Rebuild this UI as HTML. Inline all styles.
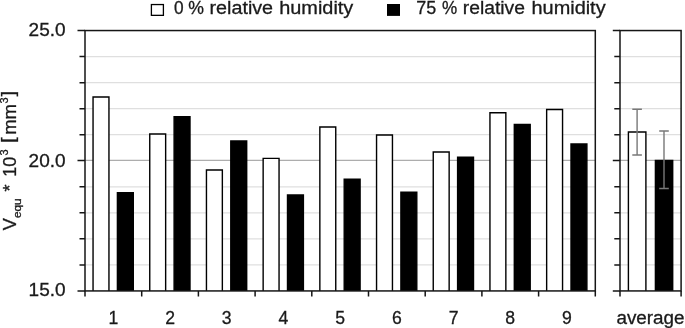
<!DOCTYPE html>
<html lang="en"><head><meta charset="utf-8"><title>Chart</title>
<style>html,body{margin:0;padding:0;background:#fff}body{width:685px;height:328px;overflow:hidden}</style>
</head><body>
<svg width="685" height="328" viewBox="0 0 685 328" style="display:block;filter:blur(0.4px)">
<rect x="0" y="0" width="685" height="328" fill="#fff"/>
<g fill="none" stroke-width="1.2">
<line x1="85.0" y1="264.89" x2="595.3" y2="264.89" stroke="#dfdfdf"/>
<line x1="620.0" y1="264.89" x2="681.1" y2="264.89" stroke="#dfdfdf"/>
<line x1="85.0" y1="238.85" x2="595.3" y2="238.85" stroke="#dfdfdf"/>
<line x1="620.0" y1="238.85" x2="681.1" y2="238.85" stroke="#dfdfdf"/>
<line x1="85.0" y1="212.82" x2="595.3" y2="212.82" stroke="#dfdfdf"/>
<line x1="620.0" y1="212.82" x2="681.1" y2="212.82" stroke="#dfdfdf"/>
<line x1="85.0" y1="186.78" x2="595.3" y2="186.78" stroke="#dfdfdf"/>
<line x1="620.0" y1="186.78" x2="681.1" y2="186.78" stroke="#dfdfdf"/>
<line x1="85.0" y1="160.40" x2="595.3" y2="160.40" stroke="#adadad"/>
<line x1="620.0" y1="160.40" x2="681.1" y2="160.40" stroke="#adadad"/>
<line x1="85.0" y1="134.70" x2="595.3" y2="134.70" stroke="#dfdfdf"/>
<line x1="620.0" y1="134.70" x2="681.1" y2="134.70" stroke="#dfdfdf"/>
<line x1="85.0" y1="108.66" x2="595.3" y2="108.66" stroke="#dfdfdf"/>
<line x1="620.0" y1="108.66" x2="681.1" y2="108.66" stroke="#dfdfdf"/>
<line x1="85.0" y1="82.63" x2="595.3" y2="82.63" stroke="#dfdfdf"/>
<line x1="620.0" y1="82.63" x2="681.1" y2="82.63" stroke="#dfdfdf"/>
<line x1="85.0" y1="56.59" x2="595.3" y2="56.59" stroke="#dfdfdf"/>
<line x1="620.0" y1="56.59" x2="681.1" y2="56.59" stroke="#dfdfdf"/>
</g>
<g stroke="#000" stroke-width="1.4">
<path d="M93.05 290.93V97.00H108.95V290.93" fill="#fff"/>
<path d="M117.40 290.93V192.70H133.30V290.93" fill="#000"/>
<path d="M149.75 290.93V134.00H165.65V290.93" fill="#fff"/>
<path d="M174.10 290.93V116.70H190.00V290.93" fill="#000"/>
<path d="M206.45 290.93V170.00H222.35V290.93" fill="#fff"/>
<path d="M230.80 290.93V141.00H246.70V290.93" fill="#000"/>
<path d="M263.15 290.93V158.40H279.05V290.93" fill="#fff"/>
<path d="M287.50 290.93V195.00H303.40V290.93" fill="#000"/>
<path d="M319.85 290.93V127.00H335.75V290.93" fill="#fff"/>
<path d="M344.20 290.93V179.30H360.10V290.93" fill="#000"/>
<path d="M376.55 290.93V135.00H392.45V290.93" fill="#fff"/>
<path d="M400.90 290.93V192.30H416.80V290.93" fill="#000"/>
<path d="M433.25 290.93V152.00H449.15V290.93" fill="#fff"/>
<path d="M457.60 290.93V157.30H473.50V290.93" fill="#000"/>
<path d="M489.95 290.93V112.70H505.85V290.93" fill="#fff"/>
<path d="M514.30 290.93V124.55H530.20V290.93" fill="#000"/>
<path d="M546.65 290.93V109.45H562.55V290.93" fill="#fff"/>
<path d="M571.00 290.93V144.00H586.90V290.93" fill="#000"/>
<path d="M628.40 290.93V132.05H645.90V290.93" fill="#fff"/>
<path d="M655.40 290.93V160.45H672.70V290.93" fill="#000"/>
</g>
<g stroke="#787878" stroke-width="1.4" fill="none">
<path d="M632.30 109.20H641.90M637.10 109.20V155.00M632.30 155.00H641.90"/>
<path d="M659.20 131.00H668.80M664.00 131.00V188.50M659.20 188.50H668.80"/>
</g>
<g stroke="#161616" stroke-width="1.5" fill="none">
<rect x="85.0" y="30.55" width="510.30" height="260.38"/>
<rect x="620.0" y="30.55" width="61.10" height="260.38"/>
<path d="M77.50 290.93H85.0M612.80 290.93H620.0M79.50 264.89H85.0M614.30 264.89H620.0M79.50 238.85H85.0M614.30 238.85H620.0M79.50 212.82H85.0M614.30 212.82H620.0M79.50 186.78H85.0M614.30 186.78H620.0M77.50 160.40H85.0M612.80 160.40H620.0M79.50 134.70H85.0M614.30 134.70H620.0M79.50 108.66H85.0M614.30 108.66H620.0M79.50 82.63H85.0M614.30 82.63H620.0M79.50 56.59H85.0M614.30 56.59H620.0M77.50 30.55H85.0M612.80 30.55H620.0M85.00 290.93V296.43M141.70 290.93V296.43M198.40 290.93V296.43M255.10 290.93V296.43M311.80 290.93V296.43M368.50 290.93V296.43M425.20 290.93V296.43M481.90 290.93V296.43M538.60 290.93V296.43M595.30 290.93V296.43M620.0 290.93V296.43M681.1 290.93V296.43"/>
</g>
<g font-family="'Liberation Sans', Arial, sans-serif" font-size="18" fill="#1a1a1a" stroke="#1a1a1a" stroke-width="0.3">
<text x="28.6" y="36.45" textLength="37" lengthAdjust="spacingAndGlyphs">25.0</text>
<text x="28.6" y="166.75" textLength="37" lengthAdjust="spacingAndGlyphs">20.0</text>
<text x="28.6" y="296.30" textLength="37" lengthAdjust="spacingAndGlyphs">15.0</text>
<text x="113.35" y="323.8" text-anchor="middle" textLength="9.8" lengthAdjust="spacingAndGlyphs">1</text>
<text x="170.05" y="323.8" text-anchor="middle" textLength="9.8" lengthAdjust="spacingAndGlyphs">2</text>
<text x="226.75" y="323.8" text-anchor="middle" textLength="9.8" lengthAdjust="spacingAndGlyphs">3</text>
<text x="283.45" y="323.8" text-anchor="middle" textLength="9.8" lengthAdjust="spacingAndGlyphs">4</text>
<text x="340.15" y="323.8" text-anchor="middle" textLength="9.8" lengthAdjust="spacingAndGlyphs">5</text>
<text x="396.85" y="323.8" text-anchor="middle" textLength="9.8" lengthAdjust="spacingAndGlyphs">6</text>
<text x="453.55" y="323.8" text-anchor="middle" textLength="9.8" lengthAdjust="spacingAndGlyphs">7</text>
<text x="510.25" y="323.8" text-anchor="middle" textLength="9.8" lengthAdjust="spacingAndGlyphs">8</text>
<text x="566.95" y="323.8" text-anchor="middle" textLength="9.8" lengthAdjust="spacingAndGlyphs">9</text>
<text x="616.4" y="323.8" textLength="68.2" lengthAdjust="spacingAndGlyphs">average</text>
<text y="13.9"><tspan x="174.00" textLength="9.60" lengthAdjust="spacingAndGlyphs">0</tspan> <tspan x="188.20" textLength="15.70" lengthAdjust="spacingAndGlyphs">%</tspan> <tspan x="209.50" textLength="63.60" lengthAdjust="spacingAndGlyphs">relative</tspan> <tspan x="279.20" textLength="74.10" lengthAdjust="spacingAndGlyphs">humidity</tspan></text>
<text y="13.9"><tspan x="416.20" textLength="20.00" lengthAdjust="spacingAndGlyphs">75</tspan> <tspan x="441.90" textLength="15.20" lengthAdjust="spacingAndGlyphs">%</tspan> <tspan x="462.80" textLength="62.20" lengthAdjust="spacingAndGlyphs">relative</tspan> <tspan x="531.50" textLength="74.10" lengthAdjust="spacingAndGlyphs">humidity</tspan></text>
<g transform="translate(15.8 230.2) rotate(-90)">
<text x="0" y="0" textLength="12" lengthAdjust="spacingAndGlyphs">V</text>
<text x="12.2" y="5.4" font-size="11" textLength="19.6" lengthAdjust="spacingAndGlyphs">equ</text>
<text x="38.8" y="0">*</text>
<text x="53.4" y="0" textLength="20" lengthAdjust="spacingAndGlyphs">10</text>
<text x="74.6" y="-7.4" font-size="11">3</text>
<text x="87.3" y="-1.4" textLength="5.8" lengthAdjust="spacingAndGlyphs">[</text>
<text x="95.4" y="0" textLength="30.8" lengthAdjust="spacingAndGlyphs">mm</text>
<text x="126.6" y="-7.4" font-size="11">3</text>
<text x="133.6" y="-1.4" textLength="5.8" lengthAdjust="spacingAndGlyphs">]</text>
</g>
</g>
<rect x="151.4" y="4.55" width="12" height="10.8" fill="#fff" stroke="#000" stroke-width="1.3"/>
<rect x="387" y="4" width="13" height="11.9" fill="#000"/>
</svg>
</body></html>
